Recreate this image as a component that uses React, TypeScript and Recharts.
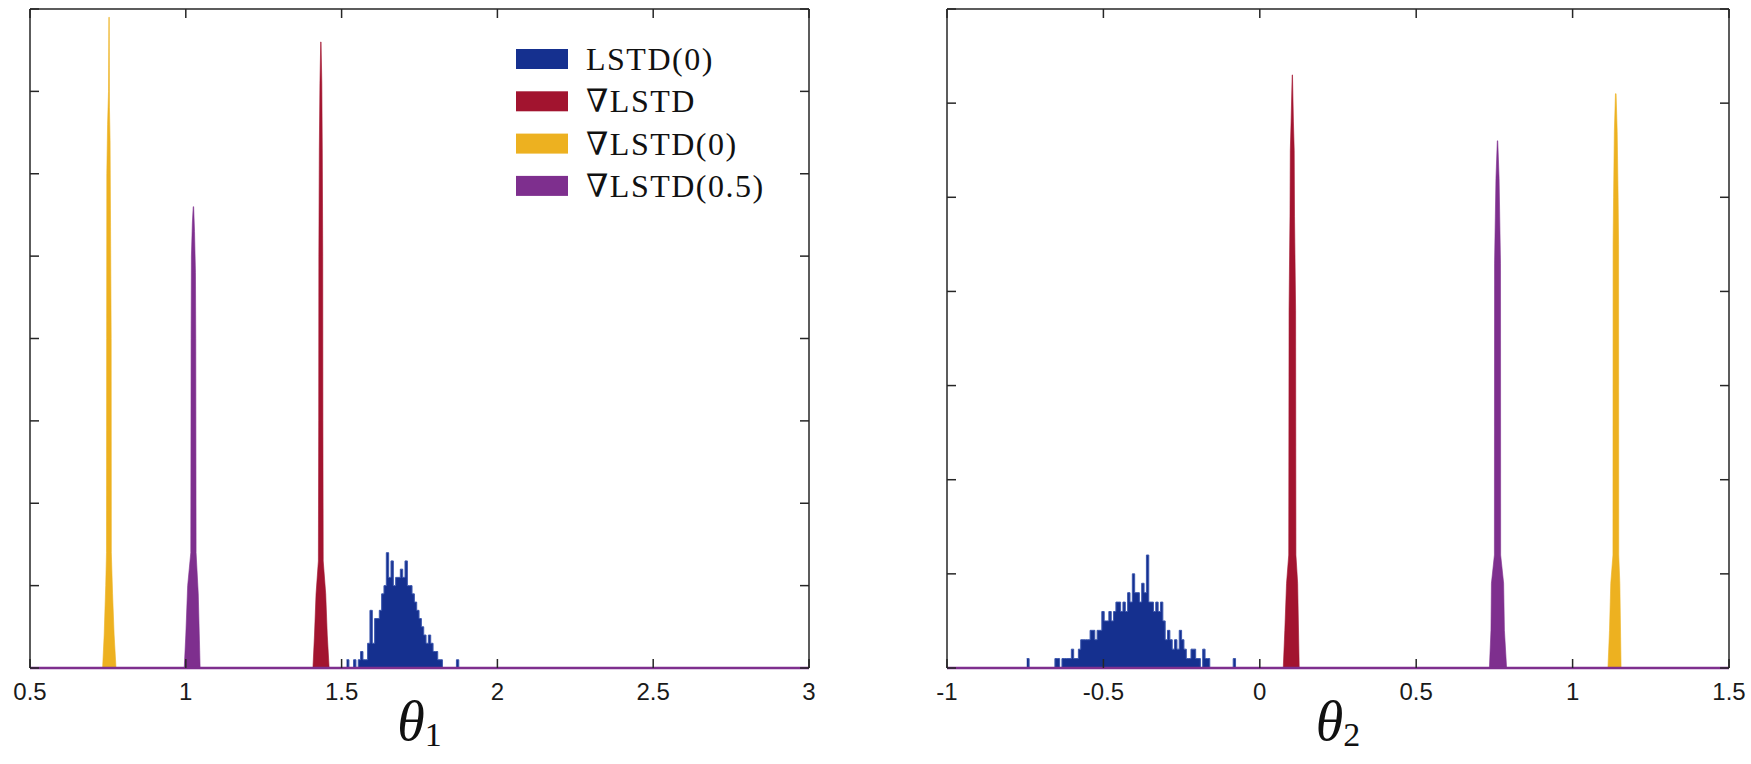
import React from 'react';
import { ComposedChart, Area, XAxis, YAxis, Legend } from 'recharts';

// Four estimators, shared by both panels
const seriesNames = ['LSTD(0)', '∇LSTD', '∇LSTD(0)', '∇LSTD(0.5)'];
const seriesColors = ['#15308f', '#a2142f', '#edb120', '#7e2f8e'];
const lstdEdge = '#3b56ad';

// theta_1 panel
const theta1Domain: [number, number] = [0.5, 3];
const theta1Ticks = [0.5, 1, 1.5, 2, 2.5, 3];
const theta1CountTicks = [0, 10, 20, 30, 40, 50, 60, 70, 80];
const theta1BinStart = 1.516;
const theta1BinWidth = 0.0075;
const theta1LstdCounts = [
  1, 0, 0, 1, 0, 1, 2, 1, 1, 3, 7, 3, 6, 6, 7, 9, 10, 14, 11, 13, 10, 11, 11, 12,
  11, 13, 10, 10, 9, 8, 7, 6, 5, 4, 3, 4, 3, 2, 2, 1, 1, 0, 0, 0, 0, 0, 0, 1,
];
const theta1Grad: [number, number][] = [
  [1.408, 0], [1.413, 4], [1.418, 9], [1.4255, 13], [1.4265, 30], [1.427, 50],
  [1.4285, 63], [1.4305, 71], [1.433, 76], [1.434, 76], [1.4365, 71], [1.438, 63],
  [1.4395, 50], [1.44, 30], [1.441, 13], [1.449, 9], [1.454, 4], [1.46, 0],
];
const theta1Grad0: [number, number][] = [
  [0.733, 0], [0.738, 4], [0.743, 10], [0.7455, 14], [0.746, 40], [0.7465, 60],
  [0.749, 66], [0.752, 70], [0.7532, 79], [0.7542, 79], [0.755, 68], [0.757, 64],
  [0.7605, 40], [0.761, 14], [0.765, 9], [0.77, 4], [0.776, 0],
];
const theta1Grad05: [number, number][] = [
  [0.995, 0], [1.0, 4], [1.006, 10], [1.016, 14], [1.017, 40], [1.018, 50], [1.021, 54],
  [1.0238, 56], [1.0252, 56], [1.028, 53], [1.031, 48], [1.032, 40], [1.033, 14],
  [1.04, 9], [1.046, 0],
];

// theta_2 panel
const theta2Domain: [number, number] = [-1, 1.5];
const theta2Ticks = [-1, -0.5, 0, 0.5, 1, 1.5];
const theta2CountTicks = [0, 10, 20, 30, 40, 50, 60, 70];
const theta2BinStart = -0.745;
const theta2BinWidth = 0.0075;
const theta2LstdCounts = [
  1, 0, 0, 0, 0, 0, 0, 0, 0, 0, 0, 0, 1, 1, 0, 1, 1, 1, 1, 2, 1, 1, 2, 3, 3, 3, 3, 4,
  4, 3, 4, 4, 6, 5, 5, 6, 5, 6, 7, 7, 6, 7, 6, 8, 7, 10, 8, 8, 7, 9, 8, 12, 7, 7, 6, 7,
  6, 7, 5, 3, 4, 3, 2, 3, 2, 4, 3, 2, 1, 1, 2, 2, 1, 1, 0, 2, 1, 1, 0, 0, 0, 0, 0, 0,
  0, 0, 0, 0, 1,
];
const theta2Grad: [number, number][] = [
  [0.075, 0], [0.08, 4], [0.0855, 9], [0.0925, 12], [0.0935, 38], [0.0965, 48],
  [0.0975, 55], [0.1, 58], [0.1035, 63], [0.1045, 63], [0.1075, 58], [0.11, 55],
  [0.111, 48], [0.1145, 38], [0.1155, 12], [0.121, 9], [0.126, 0],
];
const theta2Grad0: [number, number][] = [
  [1.113, 0], [1.118, 4], [1.122, 9], [1.129, 12], [1.1295, 45], [1.131, 50],
  [1.1335, 57], [1.137, 61], [1.139, 61], [1.1425, 57], [1.1455, 50], [1.147, 45],
  [1.1475, 12], [1.151, 9], [1.155, 0],
];
const theta2Grad05: [number, number][] = [
  [0.734, 0], [0.739, 4], [0.7405, 9], [0.75, 12], [0.7505, 43], [0.753, 48],
  [0.755, 52], [0.7593, 56], [0.7607, 56], [0.765, 52], [0.767, 48], [0.7695, 43],
  [0.77, 12], [0.7795, 9], [0.782, 4], [0.789, 0],
];

const AXIS_COLOR = '#262626';
const TICK_FONT = "'Liberation Sans Narrow', 'Liberation Sans', Arial, sans-serif";
const SERIF = "'Liberation Serif', 'DejaVu Serif', serif";
const CHART_HEIGHT = 764;

type Pt = { x: number; y: number };

const toPoints = (pairs: [number, number][]): Pt[] => pairs.map(([x, y]) => ({ x, y }));

// bin left edges with counts, closed by the right edge of the last bin
const binsToSteps = (start: number, width: number, counts: number[]): Pt[] => {
  const pts = counts.map((c, i) => ({ x: start + i * width, y: c }));
  pts.push({ x: start + counts.length * width, y: 0 });
  return pts;
};

function AxisTitle({ viewBox, sub }: any) {
  const cx = viewBox.x + viewBox.width / 2;
  const base = viewBox.y + 72;
  return (
    <text x={cx} y={base} textAnchor="middle" fill="#111" fontFamily={SERIF}>
      <tspan fontStyle="italic" fontSize={56}>θ</tspan>
      <tspan fontSize={34} dy={6}>{sub}</tspan>
    </text>
  );
}

function LegendBox() {
  return (
    <svg width={340} height={190} style={{ display: 'block' }}>
      {seriesNames.map((name, i) => (
        <g key={name}>
          <rect x={6} y={9 + i * 42.3} width={52} height={20} fill={seriesColors[i]} />
          <text
            x={76}
            y={30 + i * 42.3}
            fontFamily={SERIF}
            fontSize={32}
            letterSpacing={1.5}
            fill="#111"
          >
            {name}
          </text>
        </g>
      ))}
    </svg>
  );
}

interface PanelProps {
  width: number;
  margin: { top: number; right: number; bottom: number; left: number };
  xDomain: [number, number];
  xTicks: number[];
  yTicks: number[];
  lstd: Pt[];
  spikes: Pt[][]; // ∇LSTD, ∇LSTD(0), ∇LSTD(0.5)
  sub: string;
  showLegend?: boolean;
}

function Panel({ width, margin, xDomain, xTicks, yTicks, lstd, spikes, sub, showLegend }: PanelProps) {
  const yDomain: [number, number] = [0, yTicks[yTicks.length - 1]];
  const frame = { stroke: AXIS_COLOR, strokeWidth: 1.5 };
  const blank = () => '';

  return (
    <ComposedChart width={width} height={CHART_HEIGHT} margin={margin}>
      <XAxis
        type="number"
        dataKey="x"
        domain={xDomain}
        ticks={xTicks}
        interval={0}
        allowDataOverflow
        height={60}
        axisLine={{ stroke: seriesColors[3], strokeWidth: 2.5 }}
        tickLine={frame}
        tickSize={-9}
        tickMargin={24}
        tick={{ fill: '#1a1a1a', fontSize: 24, fontFamily: TICK_FONT }}
        label={<AxisTitle sub={sub} />}
      />
      <XAxis
        xAxisId="top"
        orientation="top"
        type="number"
        dataKey="x"
        domain={xDomain}
        ticks={xTicks}
        interval={0}
        allowDataOverflow
        height={5}
        axisLine={frame}
        tickLine={frame}
        tickSize={-9}
        tickFormatter={blank}
      />
      <YAxis
        type="number"
        domain={yDomain}
        ticks={yTicks}
        interval={0}
        allowDataOverflow
        width={10}
        axisLine={frame}
        tickLine={frame}
        tickSize={-9}
        tickFormatter={blank}
      />
      <YAxis
        yAxisId="right"
        orientation="right"
        type="number"
        domain={yDomain}
        ticks={yTicks}
        interval={0}
        allowDataOverflow
        width={10}
        axisLine={frame}
        tickLine={frame}
        tickSize={-9}
        tickFormatter={blank}
      />
      <Area
        data={lstd}
        dataKey="y"
        name={seriesNames[0]}
        type="stepAfter"
        fill={seriesColors[0]}
        fillOpacity={1}
        stroke={lstdEdge}
        strokeWidth={1}
        dot={false}
        activeDot={false}
        isAnimationActive={false}
      />
      {spikes.map((pts, i) => (
        <Area
          key={seriesNames[i + 1]}
          data={pts}
          dataKey="y"
          name={seriesNames[i + 1]}
          type="linear"
          fill={seriesColors[i + 1]}
          fillOpacity={1}
          stroke={seriesColors[i + 1]}
          strokeWidth={0.6}
          dot={false}
          activeDot={false}
          isAnimationActive={false}
        />
      ))}
      {showLegend && (
        <Legend
          verticalAlign="middle"
          align="center"
          content={() => <LegendBox />}
          wrapperStyle={{ left: 510, top: 40, width: 340 }}
        />
      )}
    </ComposedChart>
  );
}

export default function App() {
  return (
    <div
      style={{
        position: 'absolute',
        left: 0,
        top: 0,
        width: 1751,
        height: CHART_HEIGHT,
        background: '#fff',
      }}
    >
      <div style={{ position: 'absolute', left: 0, top: 0 }}>
        <Panel
          width={880}
          margin={{ top: 4, right: 61, bottom: 36, left: 20 }}
          xDomain={theta1Domain}
          xTicks={theta1Ticks}
          yTicks={theta1CountTicks}
          lstd={binsToSteps(theta1BinStart, theta1BinWidth, theta1LstdCounts)}
          spikes={[toPoints(theta1Grad), toPoints(theta1Grad0), toPoints(theta1Grad05)]}
          sub="1"
          showLegend
        />
      </div>
      <div style={{ position: 'absolute', left: 880, top: 0 }}>
        <Panel
          width={871}
          margin={{ top: 4, right: 12, bottom: 36, left: 57 }}
          xDomain={theta2Domain}
          xTicks={theta2Ticks}
          yTicks={theta2CountTicks}
          lstd={binsToSteps(theta2BinStart, theta2BinWidth, theta2LstdCounts)}
          spikes={[toPoints(theta2Grad), toPoints(theta2Grad0), toPoints(theta2Grad05)]}
          sub="2"
        />
      </div>
    </div>
  );
}
